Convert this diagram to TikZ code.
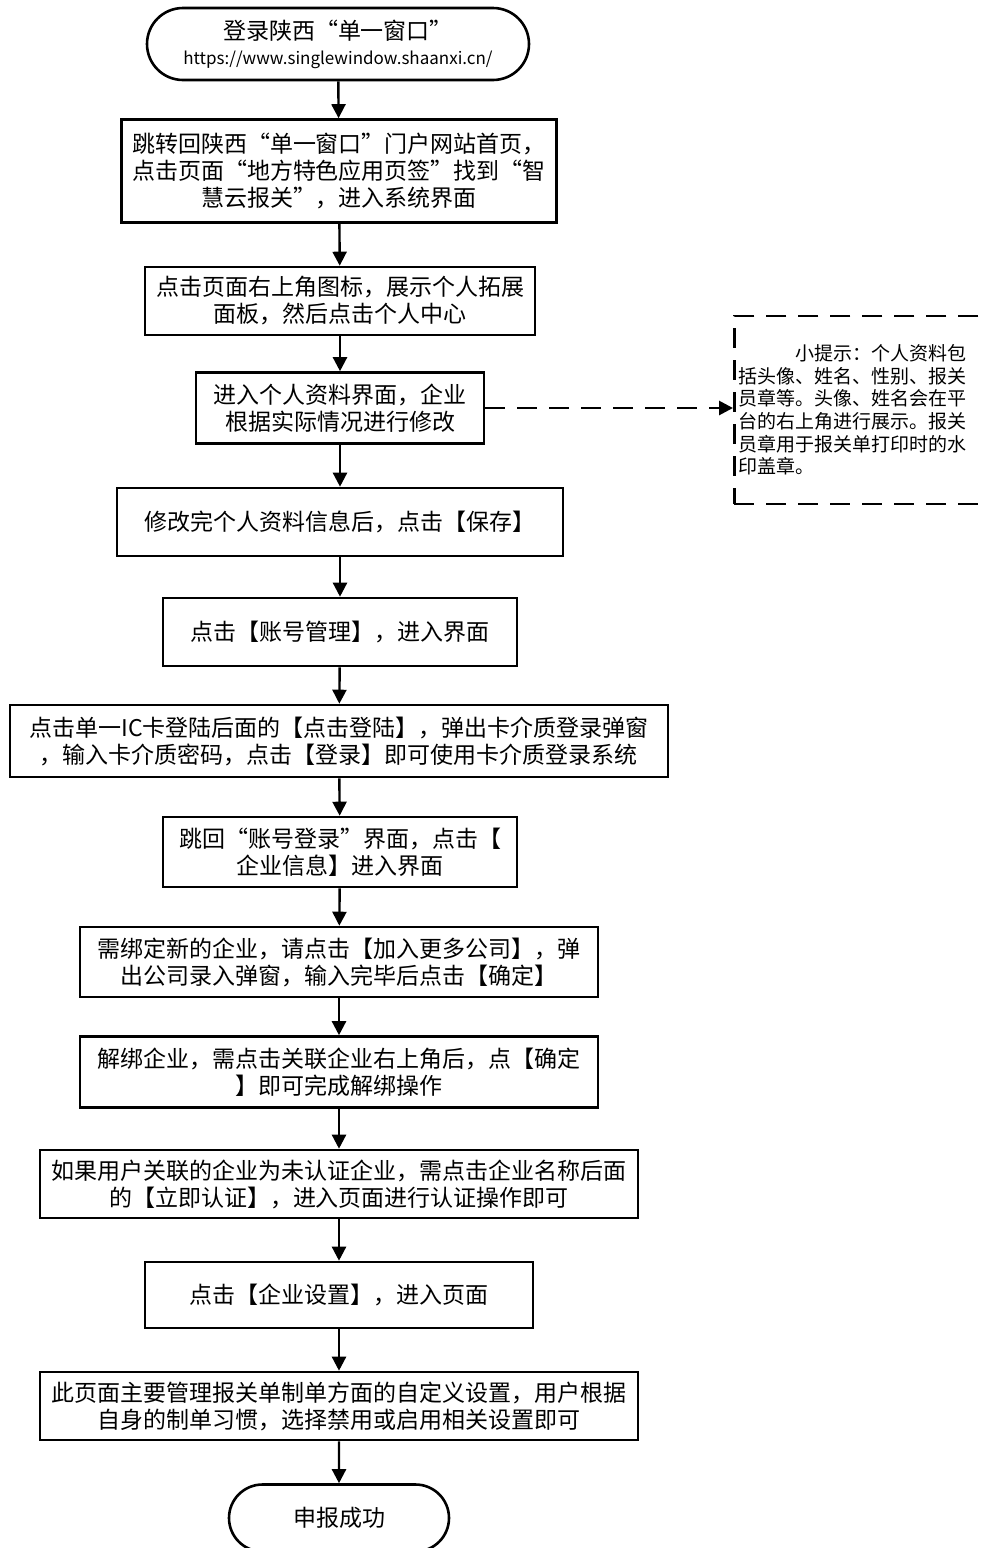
\documentclass[tikz,border=0pt]{standalone}
\usepackage{fontspec}
\setmainfont{Noto Sans CJK SC}
\usetikzlibrary{arrows.meta,shapes.misc}

\begin{document}
\begin{tikzpicture}[x=0.5pt,y=-0.5pt,
        stepbox/.style = {draw, rectangle, line width=1.3pt, align=center, inner sep=2pt,
                          font=\fontsize{11.5}{13.5}\selectfont},
        terminal/.style = {draw, rounded rectangle, line width=1.3pt, align=center, inner sep=2pt,
                           font=\fontsize{11.5}{13.5}\selectfont},
        tipbox/.style = {draw, rectangle, line width=1.4pt, dash pattern=on 10pt off 6pt,
                         align=left, inner xsep=2pt, text width=130pt, anchor=west,
                         font=\fontsize{9.5}{11.3}\selectfont},
        arrow/.style = {line width=1.2pt, -{Triangle[length=7pt,width=7pt]}},
        dasharrow/.style = {arrow, line width=1.4pt, dash pattern=on 10pt off 6pt}
        ]
        \useasboundingbox (0,0) rectangle (990,1548);
        \clip (0,0) rectangle (990,1548);

        \node[terminal, minimum width=195pt, minimum height=36pt] (start) at (338,44)
            {登录陕西“单一窗口”\\[-1pt]{\fontsize{8.5}{10}\selectfont https://www.singlewindow.shaanxi.cn/}};
        \node[stepbox, minimum width=217.5pt, minimum height=51.5pt] (jump) at (339,171)
            {跳转回陕西“单一窗口”门户网站首页，\\点击页面“地方特色应用页签”找到“智\\慧云报关”，进入系统界面};
        \node[stepbox, minimum width=195pt, minimum height=34pt] (panel) at (340,301)
            {点击页面右上角图标，展示个人拓展\\面板，然后点击个人中心};
        \node[stepbox, minimum width=144pt, minimum height=35.5pt] (profile) at (340,408)
            {进入个人资料界面，企业\\根据实际情况进行修改};
        \node[stepbox, minimum width=223pt, minimum height=34pt] (save) at (340,522)
            {修改完个人资料信息后，点击【保存】};
        \node[stepbox, minimum width=177pt, minimum height=34pt] (account) at (340,632)
            {点击【账号管理】，进入界面};
        \node[stepbox, minimum width=329pt, minimum height=36pt] (iccard) at (339,741)
            {点击单一IC卡登陆后面的【点击登陆】，弹出卡介质登录弹窗\\，输入卡介质密码，点击【登录】即可使用卡介质登录系统};
        \node[stepbox, minimum width=177pt, minimum height=35pt] (info) at (340,852)
            {跳回“账号登录”界面，点击【\\企业信息】进入界面};
        \node[stepbox, minimum width=259pt, minimum height=35pt] (bind) at (339,962)
            {需绑定新的企业，请点击【加入更多公司】，弹\\出公司录入弹窗，输入完毕后点击【确定】};
        \node[stepbox, minimum width=259pt, minimum height=35.5pt] (unbind) at (339,1072)
            {解绑企业，需点击关联企业右上角后，点【确定\\】即可完成解绑操作};
        \node[stepbox, minimum width=299pt, minimum height=34pt] (verify) at (339,1184)
            {如果用户关联的企业为未认证企业，需点击企业名称后面\\的【立即认证】，进入页面进行认证操作即可};
        \node[stepbox, minimum width=194pt, minimum height=33pt] (setting) at (339,1295)
            {点击【企业设置】，进入页面};
        \node[stepbox, minimum width=299pt, minimum height=34pt] (custom) at (339,1406)
            {此页面主要管理报关单制单方面的自定义设置，用户根据\\自身的制单习惯，选择禁用或启用相关设置即可};
        \node[terminal, minimum width=114pt, minimum height=33.5pt] (finish) at (339,1518)
            {申报成功};

        \node[tipbox, minimum height=94pt] (tip) at (733,410)
            {\hspace*{3em}小提示：个人资料包\\括头像、姓名、性别、报关\\员章等。头像、姓名会在平\\台的右上角进行展示。报关\\员章用于报关单打印时的水\\印盖章。};

        \draw[arrow] (start) -- (jump);
        \draw[arrow] (jump) -- (panel);
        \draw[arrow] (panel) -- (profile);
        \draw[arrow] (profile) -- (save);
        \draw[arrow] (save) -- (account);
        \draw[arrow] (account) -- (iccard);
        \draw[arrow] (iccard) -- (info);
        \draw[arrow] (info) -- (bind);
        \draw[arrow] (bind) -- (unbind);
        \draw[arrow] (unbind) -- (verify);
        \draw[arrow] (verify) -- (setting);
        \draw[arrow] (setting) -- (custom);
        \draw[arrow] (custom) -- (finish);

        \draw[dasharrow] (profile.east) -- (profile.east -| tip.west);
    \end{tikzpicture}
\end{document}
